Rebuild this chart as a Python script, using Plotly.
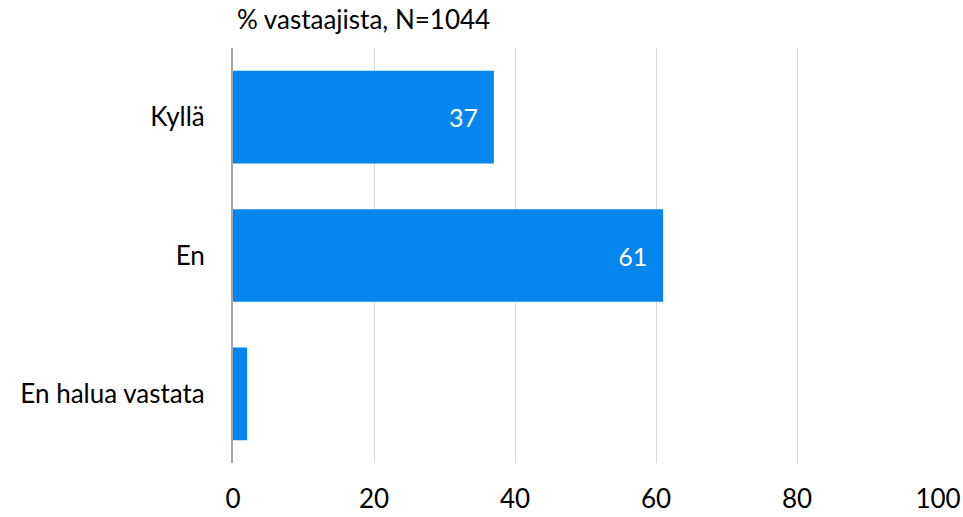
import plotly.graph_objects as go

categories = ["Kyllä", "En", "En halua vastata"]
values = [37, 61, 2]
x_ticks = [0, 20, 40, 60, 80, 100]
title_text = "% vastaajista, N=1044"

FONT = "Lato, 'Open Sans', sans-serif"
BAR = "#0585EE"

fig = go.Figure()

fig.add_trace(go.Bar(
    y=categories, x=values,
    orientation="h",
    marker=dict(color=BAR, line=dict(width=0)),
    text=[str(v) if v >= 5 else "" for v in values],
    texttemplate="%{text}\u00a0\u00a0",
    textposition="inside",
    insidetextanchor="end",
    textfont=dict(family=FONT, size=25, color="white"),
    cliponaxis=False,
    showlegend=False,
))

fig.update_layout(
    width=963, height=517,
    margin=dict(l=233, r=25, t=48, b=54, autoexpand=False),
    plot_bgcolor="white",
    paper_bgcolor="white",
    bargap=0.33,
    font=dict(family=FONT, size=25, color="black"),
    annotations=[dict(
        text=title_text, xref="paper", yref="paper",
        x=0.0, y=1.0, xanchor="left", yanchor="bottom",
        xshift=2, yshift=11, showarrow=False,
        font=dict(family=FONT, size=26, color="black"),
    )],
)

fig.update_xaxes(
    range=[0, 100], tickvals=x_ticks,
    showgrid=True, gridcolor="#D9D9D9", gridwidth=1,
    zeroline=False, showline=False,
    ticklabelstandoff=18,
    tickfont=dict(family=FONT, size=26),
    automargin=False,
    fixedrange=True,
)
fig.update_yaxes(
    categoryorder="array", categoryarray=categories[::-1],
    showline=True, linecolor="#A6A6A6", linewidth=2,
    ticklabelstandoff=21,
    tickfont=dict(family=FONT, size=26),
    automargin=False,
    fixedrange=True,
)

# drop the default 8px body margin so the figure fills the window
fig.write_html(
    "out.html",
    config={"displayModeBar": False},
    post_script="document.body.style.margin='0';",
)
